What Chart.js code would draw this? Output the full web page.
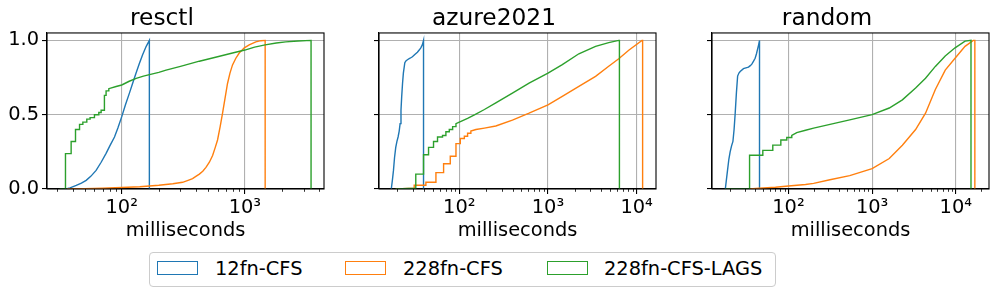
<!DOCTYPE html>
<html>
<head>
<meta charset="utf-8">
<script src="https://cdn.jsdelivr.net/npm/chart.js@4.4.1/dist/chart.umd.min.js"></script>
<style>
  body { margin: 0; width: 997px; height: 296px; overflow: hidden; position: relative; background: #fff; font-family: 'DejaVu Sans', sans-serif; }
  .panel { position: absolute; top: 0; }
  #legend { position: absolute; left: 149px; top: 252px; width: 627px; height: 35px; box-sizing: border-box; border: 1px solid #cccccc; border-radius: 4px; }
  .patch { position: absolute; top: 261px; width: 41px; height: 14px; box-sizing: border-box; border: 1.4px solid; }
  .lab { position: absolute; top: 259px; font-size: 19.4px; line-height: 19.4px; color: #000; white-space: nowrap; }
</style>
</head>
<body>
<canvas class="panel" id="c0" width="332" height="245" style="left:0px"></canvas>
<canvas class="panel" id="c1" width="332" height="245" style="left:332px"></canvas>
<canvas class="panel" id="c2" width="332" height="245" style="left:665px"></canvas>
<div id="legend"></div>
<div class="patch" style="left:157px;border-color:#1f77b4"></div><div class="lab" style="left:215px">12fn-CFS</div>
<div class="patch" style="left:345px;border-color:#ff7f0e"></div><div class="lab" style="left:403px">228fn-CFS</div>
<div class="patch" style="left:547px;border-color:#2ca02c"></div><div class="lab" style="left:604px">228fn-CFS-LAGS</div>
<script>
// CDF panels, log-x step curves
const PANELS = ['resctl', 'azure2021', 'random'];
const SERIES = ['12fn-CFS', '228fn-CFS', '228fn-CFS-LAGS'];
const COLORS = ['#1f77b4', '#ff7f0e', '#2ca02c'];
const X_MIN = [24.7, 12.43, 12.2];
const X_MAX = [4395, 16520, 24950];
const X_MAJOR = [100, 1000, 10000];
const X_MAJOR_LABELS = ['10²', '10³', '10⁴'];
const Y_TICKS = [0, 0.5, 1.0];

// [milliseconds, cumulative fraction]
const resctl12 = [[35.4,0],[38,0.008],[42.7,0.024],[47,0.04],[51.4,0.058],[56,0.085],[61.9,0.125],[68,0.18],[74.6,0.24],[80,0.29],[87.3,0.35],[93,0.41],[100,0.487],[107,0.565],[115.4,0.645],[123,0.715],[130.7,0.78],[139,0.845],[148,0.905],[158,0.96],[164,0.985],[167.6,1.0],[167.6,0]];
const resctl228 = [[36,0],[50,0.002],[70,0.005],[100,0.01],[140,0.015],[200,0.025],[260,0.035],[312,0.045],[350,0.06],[376,0.07],[400,0.085],[427,0.10],[455,0.12],[483,0.145],[515,0.18],[547,0.225],[575,0.28],[600,0.33],[630,0.42],[659,0.51],[690,0.61],[723,0.71],[757,0.78],[794,0.835],[845,0.88],[900,0.915],[990,0.95],[1084,0.97],[1228,0.99],[1350,0.998],[1462,1.0],[1462,0]];
const resctlLags = [[31.3,0],[34.9,0],[34.9,0.238],[38.8,0.238],[38.8,0.32],[42.1,0.32],[42.1,0.40],[45.4,0.40],[45.4,0.435],[48.3,0.435],[48.3,0.45],[52,0.45],[52,0.47],[55.3,0.47],[55.3,0.48],[60,0.48],[60,0.50],[65.1,0.50],[65.1,0.515],[68,0.515],[68,0.53],[72.3,0.53],[72.3,0.63],[74.6,0.63],[74.6,0.66],[78.5,0.66],[78.5,0.675],[90,0.69],[100,0.70],[115,0.725],[131,0.745],[150,0.76],[168,0.77],[200,0.785],[229,0.80],[300,0.825],[427,0.86],[600,0.89],[794,0.915],[1000,0.935],[1200,0.955],[1462,0.97],[1800,0.982],[2150,0.99],[2700,0.996],[3450,1.0],[3450,0]];

const azure12 = [[17.1,0],[17.6,0.06],[18.1,0.125],[18.6,0.21],[19.2,0.28],[19.8,0.32],[20.4,0.35],[21,0.39],[21.5,0.44],[22,0.53],[22.4,0.62],[22.9,0.71],[23.4,0.78],[24.3,0.85],[25,0.862],[26,0.87],[27.8,0.88],[29.6,0.89],[31.5,0.905],[33.7,0.92],[35.3,0.935],[36.8,0.95],[38.3,0.97],[39.5,1.0],[39.5,0]];
const azure228 = [[19.2,0],[31,0.005],[31,0.025],[42,0.025],[42,0.045],[54.5,0.045],[54.5,0.11],[66.5,0.11],[66.5,0.17],[79.1,0.17],[79.1,0.22],[91.7,0.22],[91.7,0.305],[102.6,0.305],[102.6,0.34],[114,0.34],[114,0.355],[124,0.355],[124,0.375],[135,0.375],[135,0.39],[154,0.40],[192,0.41],[258,0.424],[397,0.464],[612,0.51],[1000,0.566],[1450,0.623],[2230,0.69],[3440,0.758],[4840,0.826],[6280,0.876],[8140,0.934],[11480,1.0],[11670,1.0],[11670,0]];
const azureLags = [[19.2,0],[32.3,0.005],[32.3,0.10],[39.5,0.10],[39.5,0.23],[45,0.23],[45,0.28],[51.2,0.28],[51.2,0.32],[56.8,0.32],[56.8,0.35],[64.7,0.35],[64.7,0.36],[70.6,0.36],[70.6,0.385],[77.1,0.385],[77.1,0.40],[84.1,0.40],[84.1,0.42],[91.7,0.42],[91.7,0.44],[100,0.45],[124,0.475],[150,0.50],[192,0.535],[258,0.58],[397,0.645],[612,0.713],[1000,0.78],[1450,0.837],[2230,0.91],[3440,0.96],[4840,0.985],[6280,1.0],[6390,1.0],[6390,0]];

const random12 = [[17.6,0],[18.2,0.07],[18.7,0.125],[19.4,0.2],[20.1,0.25],[20.9,0.29],[21.7,0.32],[22.4,0.4],[23.1,0.51],[23.9,0.65],[24.7,0.76],[25.6,0.78],[26.5,0.79],[29,0.81],[31,0.815],[33.3,0.82],[35,0.83],[36.5,0.84],[38.3,0.86],[40,0.88],[41.5,0.91],[42.7,0.94],[44,0.97],[45.1,1.0],[45.1,0]];
const random228 = [[34.3,0],[45,0.005],[70,0.012],[100,0.02],[160,0.03],[200,0.038],[313,0.062],[540,0.09],[1000,0.137],[1603,0.205],[2300,0.295],[3310,0.40],[4350,0.51],[5700,0.67],[7480,0.80],[9800,0.88],[12900,0.96],[16200,1.0],[16900,1.0],[16900,0]];
const randomLags = [[17.6,0],[34.3,0],[34.3,0.227],[49.4,0.227],[49.4,0.26],[65,0.26],[65,0.295],[81.1,0.295],[81.1,0.33],[95.5,0.33],[95.5,0.347],[109.6,0.347],[109.6,0.36],[125.7,0.38],[160,0.395],[200,0.41],[314,0.435],[540,0.465],[1000,0.5],[1603,0.545],[2300,0.60],[3310,0.68],[4350,0.745],[5700,0.825],[7480,0.895],[9800,0.95],[12900,0.995],[15200,1.0],[15200,0]];

const DATA = [[resctl12, resctl228, resctlLags], [azure12, azure228, azureLags], [random12, random228, randomLags]];

const FONT = 'DejaVu Sans';
const GRID = '#b0b0b0';

// spines on top of the data + matplotlib-style minor ticks
const frame = {
  id: 'frame',
  afterDatasetsDraw(chart) {
    const a = chart.chartArea, ctx = chart.ctx, xs = chart.scales.x;
    ctx.save();
    ctx.strokeStyle = '#000';
    ctx.lineWidth = 0.8;
    for (let d = Math.floor(Math.log10(xs.min)); d <= Math.ceil(Math.log10(xs.max)); d++) {
      for (let m = 2; m <= 9; m++) {
        const v = m * Math.pow(10, d);
        if (v < xs.min || v > xs.max) continue;
        const px = Math.round(xs.getPixelForValue(v)) + 0.5;
        ctx.beginPath(); ctx.moveTo(px, a.bottom); ctx.lineTo(px, a.bottom + 2.8); ctx.stroke();
      }
    }
    ctx.lineWidth = 1.1;
    ctx.strokeRect(a.left, a.top, a.right - a.left, a.bottom - a.top);
    ctx.restore();
  }
};

function makePanel(i) {
  const datasets = DATA[i].map((pts, k) => ({
    label: SERIES[k],
    data: pts.map(p => ({ x: p[0], y: p[1] })),
    showLine: true,
    borderColor: COLORS[k],
    borderWidth: 1.4,
    pointRadius: 0,
    fill: false,
    tension: 0,
    order: 3 - k
  }));
  new Chart(document.getElementById('c' + i), {
    type: 'scatter',
    data: { datasets },
    plugins: [frame],
    options: {
      responsive: false,
      animation: false,
      events: [],
      layout: { padding: { left: 0, right: 8, top: 0, bottom: 0 } },
      plugins: {
        legend: { display: false },
        tooltip: { enabled: false },
        title: { display: true, text: PANELS[i], color: '#000', font: { family: FONT, size: 23.3, weight: 'normal' }, padding: { top: 5, bottom: 0 } }
      },
      scales: {
        x: {
          type: 'logarithmic', bounds: 'data', min: X_MIN[i], max: X_MAX[i],
          afterBuildTicks: s => { s.ticks = X_MAJOR.filter(v => v >= s.min && v <= s.max).map(v => ({ value: v })); },
          afterFit: s => { s.height = 56; },
          ticks: { autoSkip: false, maxRotation: 0, minRotation: 0, padding: 2, color: '#000', font: { family: FONT, size: 19.4 },
            callback: v => X_MAJOR_LABELS[X_MAJOR.indexOf(v)] || '' },
          grid: { color: GRID, lineWidth: 1.1, tickColor: '#000', tickLength: 5 },
          border: { color: '#000', width: 1.1 },
          title: { display: true, text: 'milliseconds', color: '#000', font: { family: FONT, size: 19.4 }, padding: { top: 0, bottom: 2 } }
        },
        y: {
          type: 'linear', bounds: 'data', min: 0, max: 1.05,
          afterBuildTicks: s => { s.ticks = Y_TICKS.map(v => ({ value: v })); },
          afterFit: s => { s.width = 47; },
          ticks: { padding: 3, color: '#000', font: { family: FONT, size: 19.4 },
            callback: v => i === 0 ? v.toFixed(1) : '' },
          grid: { color: GRID, lineWidth: 1.1, tickColor: '#000', tickLength: 5 },
          border: { color: '#000', width: 1.1 }
        }
      }
    }
  });
}

PANELS.forEach((_, i) => makePanel(i));
</script>
</body>
</html>
